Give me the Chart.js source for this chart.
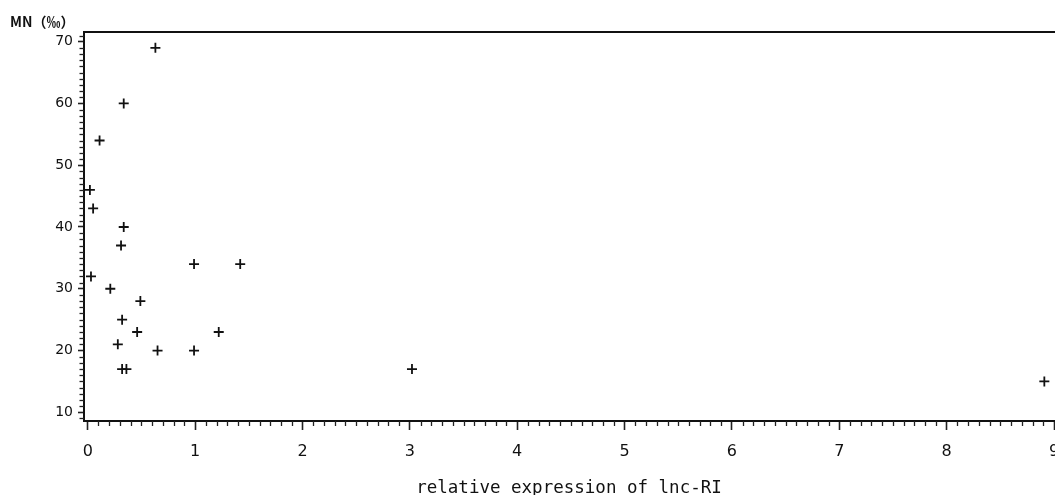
<!DOCTYPE html>
<html>
<head>
<meta charset="utf-8">
<script src="https://cdn.jsdelivr.net/npm/chart.js@4.4.1/dist/chart.umd.min.js"></script>
<style>
    html, body { margin: 0; padding: 0; background: #fff; overflow: hidden; }
    #wrap { width: 1100px; height: 500px; }
</style>
</head>
<body>
<div id="wrap"><canvas id="scatterChart" width="1100" height="500"></canvas></div>
<script>
// relative expression of lnc-RI vs MN (‰)
const xValues = [0.63, 0.335, 0.11, 0.02, 0.05, 0.335, 0.31, 0.03, 0.21, 0.49, 0.32,
                 0.46, 1.22, 0.28, 0.65, 0.99, 0.32, 0.36, 0.99, 1.42, 3.02, 8.91];
const yValues = [69, 60, 54, 46, 43, 40, 37, 32, 30, 28, 25,
                 23, 23, 21, 20, 20, 17, 17, 34, 34, 17, 15];
const xTickLabels = [0, 1, 2, 3, 4, 5, 6, 7, 8, 9];
const yTickLabels = [10, 20, 30, 40, 50, 60, 70];
const xAxisTitle = 'relative expression of lnc-RI';
const yAxisTitle = 'MN（‰）';

window.onload = function () {
    const ctx = document.getElementById('scatterChart').getContext('2d');
    const ink = '#111';

    // minor ticks, top frame line and the y label in the corner
    const axisExtras = {
        id: 'axisExtras',
        afterDraw(chart) {
            const c = chart.ctx;
            const area = chart.chartArea;
            const xs = chart.scales.x;
            const ys = chart.scales.y;
            c.save();
            c.strokeStyle = '#222';
            c.lineWidth = 1.3;
            for (let i = Math.ceil(xs.min * 10); i <= Math.floor(xs.max * 10); i++) {
                if (i % 10 === 0) continue;
                const px = Math.round(xs.getPixelForValue(i / 10)) + 0.5;
                c.beginPath();
                c.moveTo(px, area.bottom);
                c.lineTo(px, area.bottom + 5);
                c.stroke();
            }
            for (let v = Math.ceil(ys.min); v <= Math.floor(ys.max); v++) {
                if (v % 10 === 0) continue;
                const py = Math.round(ys.getPixelForValue(v)) + 0.5;
                c.beginPath();
                c.moveTo(area.left, py);
                c.lineTo(area.left - 4.5, py);
                c.stroke();
            }
            c.strokeStyle = ink;
            c.lineWidth = 2;
            c.beginPath();
            c.moveTo(area.left - 1, area.top);
            c.lineTo(chart.width, area.top);
            c.stroke();

            c.fillStyle = ink;
            c.font = 'bold 14px "Noto Sans CJK SC", "DejaVu Sans"';
            c.textBaseline = 'middle';
            c.textAlign = 'left';
            c.fillText(yAxisTitle, 10, 22);
            c.restore();
        }
    };

    new Chart(ctx, {
        type: 'scatter',
        data: {
            datasets: [{
                data: xValues.map((x, i) => ({ x: x, y: yValues[i] })),
                pointStyle: 'cross',
                pointRadius: 5,
                pointHoverRadius: 5,
                borderColor: ink,
                backgroundColor: ink,
                borderWidth: 1.8
            }]
        },
        options: {
            responsive: false,
            animation: false,
            devicePixelRatio: 1,
            events: [],
            layout: { padding: { top: 32, right: 46, left: 0, bottom: 0 } },
            plugins: {
                legend: { display: false },
                tooltip: { enabled: false }
            },
            scales: {
                x: {
                    type: 'linear',
                    min: -0.035,
                    max: 9.0,
                    afterBuildTicks: scale => {
                        scale.ticks = xTickLabels.map(v => ({ value: v }));
                    },
                    afterFit: scale => { scale.height = 79; },
                    border: { display: true, color: ink, width: 2 },
                    grid: {
                        drawOnChartArea: false,
                        drawTicks: true,
                        tickLength: 9,
                        tickWidth: 1.6,
                        tickColor: '#222'
                    },
                    ticks: {
                        color: ink,
                        padding: 12,
                        maxRotation: 0,
                        autoSkip: false,
                        font: { family: '"DejaVu Sans"', size: 16 }
                    },
                    title: {
                        display: true,
                        text: xAxisTitle,
                        color: ink,
                        padding: { top: 0, bottom: 1.5 },
                        font: { family: '"DejaVu Sans Mono"', size: 17.5 }
                    }
                },
                y: {
                    type: 'linear',
                    min: 8.59,
                    max: 71.57,
                    afterBuildTicks: scale => {
                        scale.ticks = yTickLabels.map(v => ({ value: v }));
                    },
                    afterFit: scale => { scale.width = 84; },
                    border: { display: true, color: ink, width: 2 },
                    grid: {
                        drawOnChartArea: false,
                        drawTicks: true,
                        tickLength: 6,
                        tickWidth: 1.6,
                        tickColor: '#222'
                    },
                    ticks: {
                        color: ink,
                        padding: 5,
                        autoSkip: false,
                        font: { family: '"DejaVu Sans"', size: 14 }
                    }
                }
            }
        },
        plugins: [axisExtras]
    });
};
</script>
</body>
</html>
